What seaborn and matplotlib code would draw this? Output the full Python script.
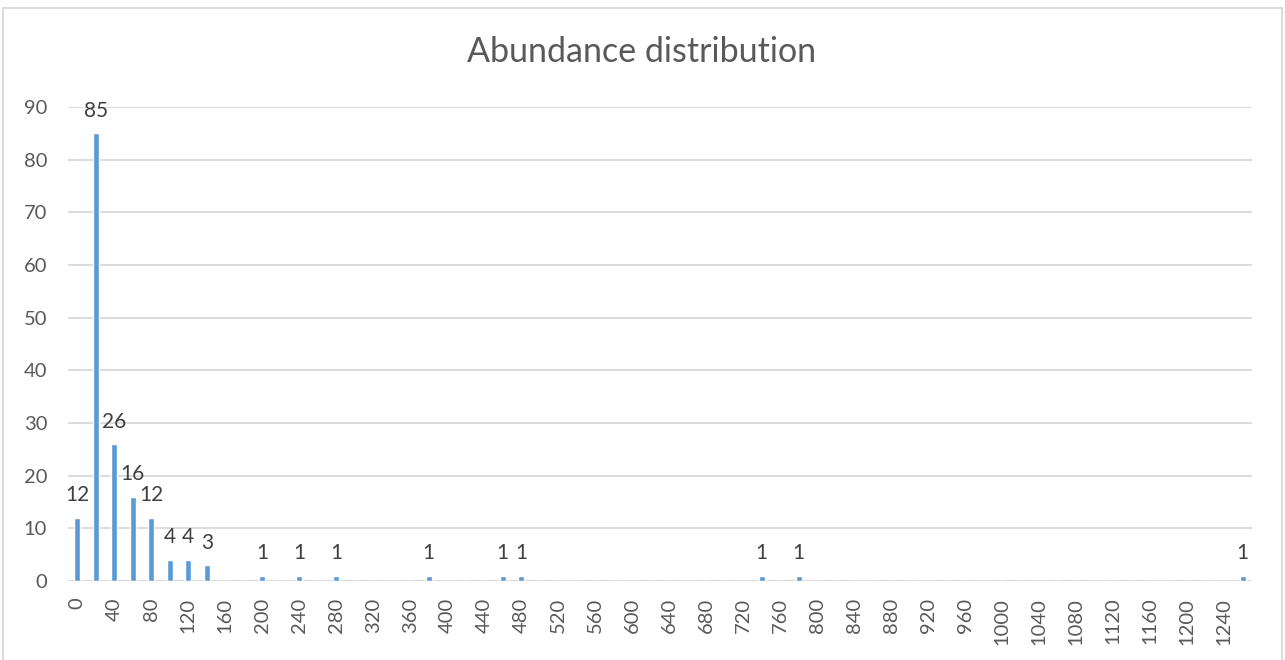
import matplotlib
matplotlib.use("Agg")
import matplotlib.pyplot as plt
import matplotlib.patches as mpatches
import seaborn as sns
import pandas as pd

# Abundance bins (step 20) and the number of species falling in each
bin_starts = list(range(0, 1280, 20))
nonzero_bins = [0, 20, 40, 60, 80, 100, 120, 140, 200, 240, 280, 380, 460, 480, 740, 780, 1260]
nonzero_counts = [12, 85, 26, 16, 12, 4, 4, 3, 1, 1, 1, 1, 1, 1, 1, 1, 1]

counts = dict(zip(nonzero_bins, nonzero_counts))
df = pd.DataFrame({
    "bin": [str(b) for b in bin_starts],
    "count": [counts.get(b, 0) for b in bin_starts],
})

sns.set_theme(style="white")
plt.rcParams["font.family"] = ["Lato", "DejaVu Sans"]

fig = plt.figure(figsize=(12.85, 6.6), dpi=100)
ax = fig.add_axes([68 / 1285, 1 - 581 / 660, (1252 - 68) / 1285, (581 - 107) / 660])

bar_color = "#5B9BD5"
grid_color = "#D9D9D9"
tick_color = "#595959"

sns.barplot(data=df, x="bin", y="count", order=df["bin"], color=bar_color,
            width=0.3, saturation=1, ax=ax, zorder=3)

ax.set_xlim(-0.5, len(bin_starts) - 0.5)
ax.set_ylim(0, 90)
ax.set_yticks(range(0, 91, 10))
ax.yaxis.grid(True, color=grid_color, linewidth=1.3, zorder=0)
ax.set_axisbelow(True)
for s in ax.spines.values():
    s.set_visible(False)
ax.axhline(0, color=grid_color, linewidth=1.5, zorder=2)

# Label every other bin on the x axis
positions = list(range(len(bin_starts)))
ax.set_xticks(positions[::2])
ax.set_xticklabels([str(b) for b in bin_starts[::2]], rotation=90)
ax.tick_params(axis="x", length=0, pad=12, labelsize=14.5, labelcolor=tick_color)
ax.tick_params(axis="y", length=0, pad=15, labelsize=14.5, labelcolor=tick_color)
ax.set_xlabel("")
ax.set_ylabel("")

# Value labels above non-empty bars
for i, c in enumerate(df["count"]):
    if c > 0:
        ax.annotate(str(c), (i, c), xytext=(0, 9), textcoords="offset points",
                    ha="center", va="bottom", fontsize=15, color="#404040")

fig.text(642 / 1285, 1 - 52 / 660, "Abundance distribution", ha="center", va="center",
         fontsize=24.5, color=tick_color)

# Chart frame
frame = mpatches.Rectangle((3 / 1285, -0.05), (1282 - 3) / 1285, 1.05 - 8 / 660,
                           transform=fig.transFigure, fill=False,
                           edgecolor="#D9D9D9", linewidth=1.3)
fig.patches.append(frame)

fig.savefig("out.png", dpi=100, facecolor="white")
